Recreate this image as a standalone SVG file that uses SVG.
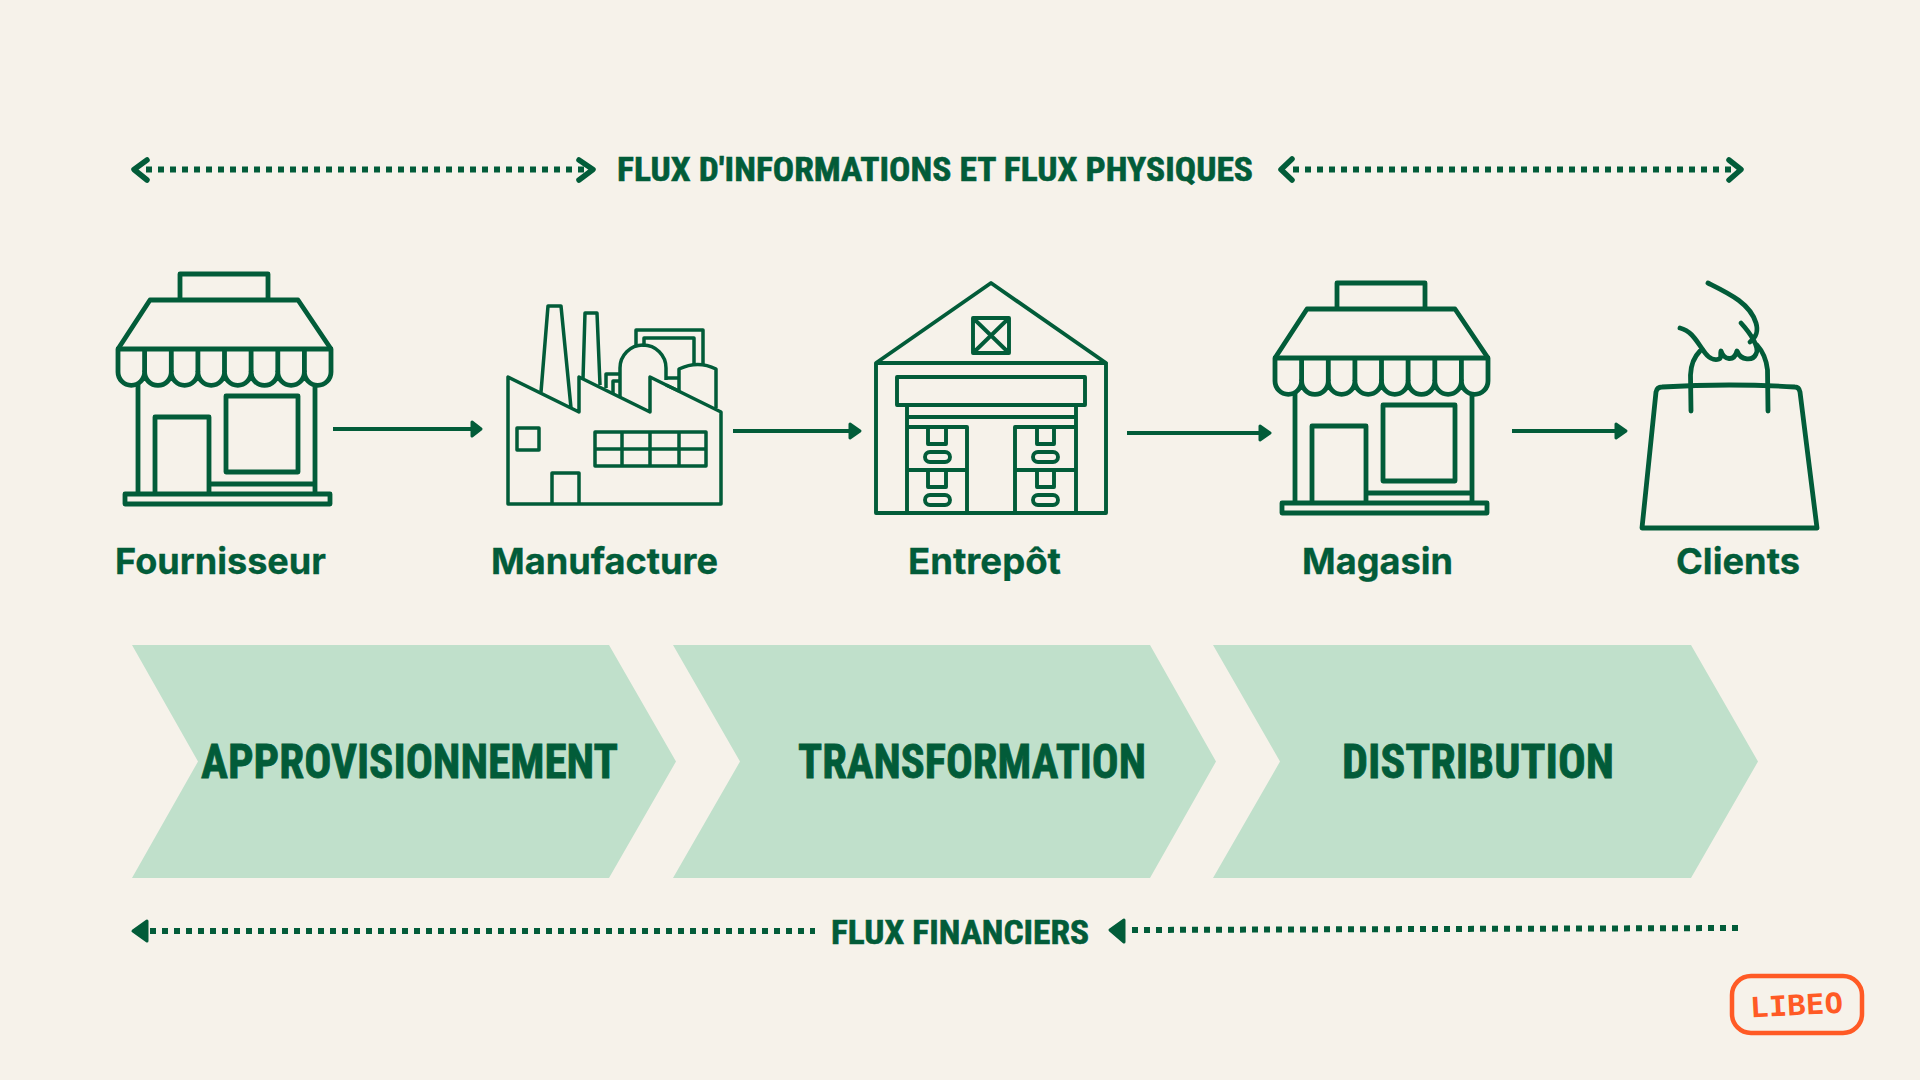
<svg xmlns="http://www.w3.org/2000/svg" width="1920" height="1080" viewBox="0 0 1920 1080">
<style>
.ln{fill:none;stroke:#025c39;stroke-linejoin:round;stroke-linecap:butt}
.s4{stroke-width:4.800}.s3{stroke-width:3.500}.s35{stroke-width:3.900}
.dot{fill:none;stroke:#025c39;stroke-width:6;stroke-dasharray:6 6}
.chev{fill:none;stroke:#025c39;stroke-width:5.500;stroke-linecap:round;stroke-linejoin:round}
.head{fill:#025c39;stroke:#025c39;stroke-width:3;stroke-linejoin:round}
.arrow{fill:none;stroke:#025c39;stroke-width:4}
.lab{font-family:Inter,"Liberation Sans",sans-serif;font-weight:700;font-size:35.500px;fill:#025c39;stroke:#025c39;stroke-width:.3}
.cond{font-family:"Liberation Sans Narrow","Roboto Condensed",Roboto,"Liberation Sans",sans-serif;font-weight:700;fill:#025c39;stroke:#025c39}
.t34{font-size:34px;stroke-width:.6}
.t50{font-size:49px;stroke-width:.8}
.band{fill:#c0e0cb}
</style>
<defs>
<g id="shop">
<path class="ln s4" d="M180 300V274H268V300"/>
<path class="ln s4" d="M118 349L150 300H298L331 349"/>
<path class="ln s4" d="M118 349H331V372A13.300 13.300 0 0 1 304.400 372A13.300 13.300 0 0 1 277.800 372A13.300 13.300 0 0 1 251.100 372A13.300 13.300 0 0 1 224.500 372A13.300 13.300 0 0 1 197.900 372A13.300 13.300 0 0 1 171.300 372A13.300 13.300 0 0 1 144.600 372A13.300 13.300 0 0 1 118 372Z"/>
<path class="ln s4" d="M144.600 349V372M171.300 349V372M197.900 349V372M224.500 349V372M251.100 349V372M277.800 349V372M304.400 349V372"/>
<path class="ln s4" d="M138 383V494M315 383V494"/>
<path class="ln s4" d="M155 494V417H209V494"/>
<rect class="ln s4" x="226" y="396" width="72" height="76"/>
<path class="ln s4" d="M209 484H315"/>
<rect class="ln s4" x="125" y="494" width="205" height="10"/>
</g>
</defs>
<rect width="1920" height="1080" fill="#f6f2ea"/>

<g id="connectors">
<path class="arrow" d="M333 429H472"/><path class="head" d="M472 422L481 429L472 436Z"/>
<path class="arrow" d="M733 431H850"/><path class="head" d="M850 424L860 431L850 438Z"/>
<path class="arrow" d="M1127 433H1260"/><path class="head" d="M1260 426L1270 433L1260 440Z"/>
<path class="arrow" d="M1512 431H1616"/><path class="head" d="M1616 424L1626 431L1616 438Z"/>
</g>

<g id="flux-info">
<path class="dot" d="M146 169.500H586"/>
<path class="chev" d="M147 160L134 169.500L147 180"/>
<path class="chev" d="M579 160L593 169.500L579 180"/>
<text class="cond t34" x="617" y="181" textLength="636" lengthAdjust="spacingAndGlyphs">FLUX D'INFORMATIONS ET FLUX PHYSIQUES</text>
<path class="dot" d="M1293 169.500H1733"/>
<path class="chev" d="M1292 159L1281 169.500L1292 180"/>
<path class="chev" d="M1729 160L1741 169.500L1729 180"/>
</g>

<g id="fournisseur">
<use href="#shop"/>
<text class="lab" x="115" y="574" textLength="211" lengthAdjust="spacingAndGlyphs">Fournisseur</text>
</g>

<g id="manufacture">
<path class="ln s3" d="M636 347V330H703V365M644 347V338H694V365"/>
<path class="ln s3" d="M606 388V374H620M613 393V381H620M666 378H679M666 385L679 391"/>
<path class="ln s3" d="M541 392L548 306H561L571 408M583 379L585 313H597L600 385"/>
<path class="ln s3" d="M620 397V368A23 23 0 0 1 666 368V380"/>
<path class="ln s3" d="M679 392V369Q698 360 716 369V408"/>
<path class="ln s3" d="M508 377V504H721V412L650 377V412L579 377V412Z"/>
<rect class="ln s3" x="517" y="428" width="22" height="22"/>
<path class="ln s3" d="M595 432H706V466H595ZM595 449H706M622 432V466M650 432V466M679 432V466"/>
<path class="ln s3" d="M552 504V473H579V504"/>
<text class="lab" x="491" y="574" textLength="227" lengthAdjust="spacingAndGlyphs">Manufacture</text>
</g>

<g id="entrepot">
<path class="ln s35" d="M876 363L991 283L1106 363ZM876 363V513H1106V363"/>
<path class="ln s35" d="M973 318H1009V353H973ZM973 318L1009 353M1009 318L973 353"/>
<rect class="ln s35" x="897" y="377" width="188" height="28"/>
<path class="ln s35" d="M907 405V513M1076 405V513M907 417H1076"/>
<path class="ln s35" d="M907 427H967V513M907 470H967M1015 513V427H1076M1015 470H1076"/>
<path class="ln s35" d="M928 428V444H946V428M928 471V487H946V471M1037 428V444H1054V428M1037 471V487H1054V471"/>
<rect class="ln s35" x="925" y="452" width="25" height="10" rx="5"/>
<rect class="ln s35" x="925" y="495" width="25" height="10" rx="5"/>
<rect class="ln s35" x="1033" y="452" width="25" height="10" rx="5"/>
<rect class="ln s35" x="1033" y="495" width="25" height="10" rx="5"/>
<text class="lab" x="908" y="574" textLength="153" lengthAdjust="spacingAndGlyphs">Entrepôt</text>
</g>

<g id="magasin">
<use href="#shop" transform="translate(1157 9)"/>
<text class="lab" x="1302" y="574" textLength="151" lengthAdjust="spacingAndGlyphs">Magasin</text>
</g>

<g id="clients">
<path class="ln s4" d="M1642 528L1656 392Q1657 387 1662 387Q1730 383 1795 387Q1799 387 1800 392L1817 528Z"/>
<path class="ln s4" style="stroke-linecap:round" d="M1691 411L1690.500 375Q1691 360 1700 351M1768 411L1767.500 370Q1766 355 1757 345"/>
<path class="ln s4" style="stroke-linecap:round" d="M1680 328C1692 331 1697 342 1703 350C1708 358 1714 361 1719 359C1722 358 1720 354 1721 351C1724 360 1734 362 1737 351C1741 361 1753 361 1756 354C1760 348 1751 334 1741 323M1708 283C1728 293 1750 303 1756 323C1759 333 1755 338 1750 342"/>
<text class="lab" x="1676" y="574" textLength="124" lengthAdjust="spacingAndGlyphs">Clients</text>
</g>

<g id="approvisionnement">
<path class="band" d="M132 645H609L676 761.500L609 878H132L198 761.500Z"/>
<text class="cond t50" x="201" y="778" textLength="417" lengthAdjust="spacingAndGlyphs">APPROVISIONNEMENT</text>
</g>
<g id="transformation">
<path class="band" d="M673 645H1150L1216 761.500L1150 878H673L740 761.500Z"/>
<text class="cond t50" x="798" y="778" textLength="348" lengthAdjust="spacingAndGlyphs">TRANSFORMATION</text>
</g>
<g id="distribution">
<path class="band" d="M1213 645H1691L1758 761.500L1691 878H1213L1280 761.500Z"/>
<text class="cond t50" x="1342" y="778" textLength="272" lengthAdjust="spacingAndGlyphs">DISTRIBUTION</text>
</g>

<g id="flux-financiers">
<path class="head" d="M133 931L147 921V941Z"/>
<path class="dot" d="M150 931H815"/>
<text class="cond t34" x="831" y="944" textLength="258" lengthAdjust="spacingAndGlyphs">FLUX FINANCIERS</text>
<path class="head" d="M1110 930L1124 920V942Z"/>
<path class="dot" d="M1132 930L1738 928"/>
</g>

<g id="logo">
<rect x="1732" y="976" width="130" height="57" rx="19" fill="none" stroke="#ff5a25" stroke-width="4.500"/>
<text x="1750" y="1015" transform="rotate(-3 1796 1005)" font-family="'DejaVu Sans Mono',monospace" font-weight="700" font-size="28" fill="#ff5a25" textLength="93" lengthAdjust="spacingAndGlyphs">LIBEO</text>
</g>
</svg>
